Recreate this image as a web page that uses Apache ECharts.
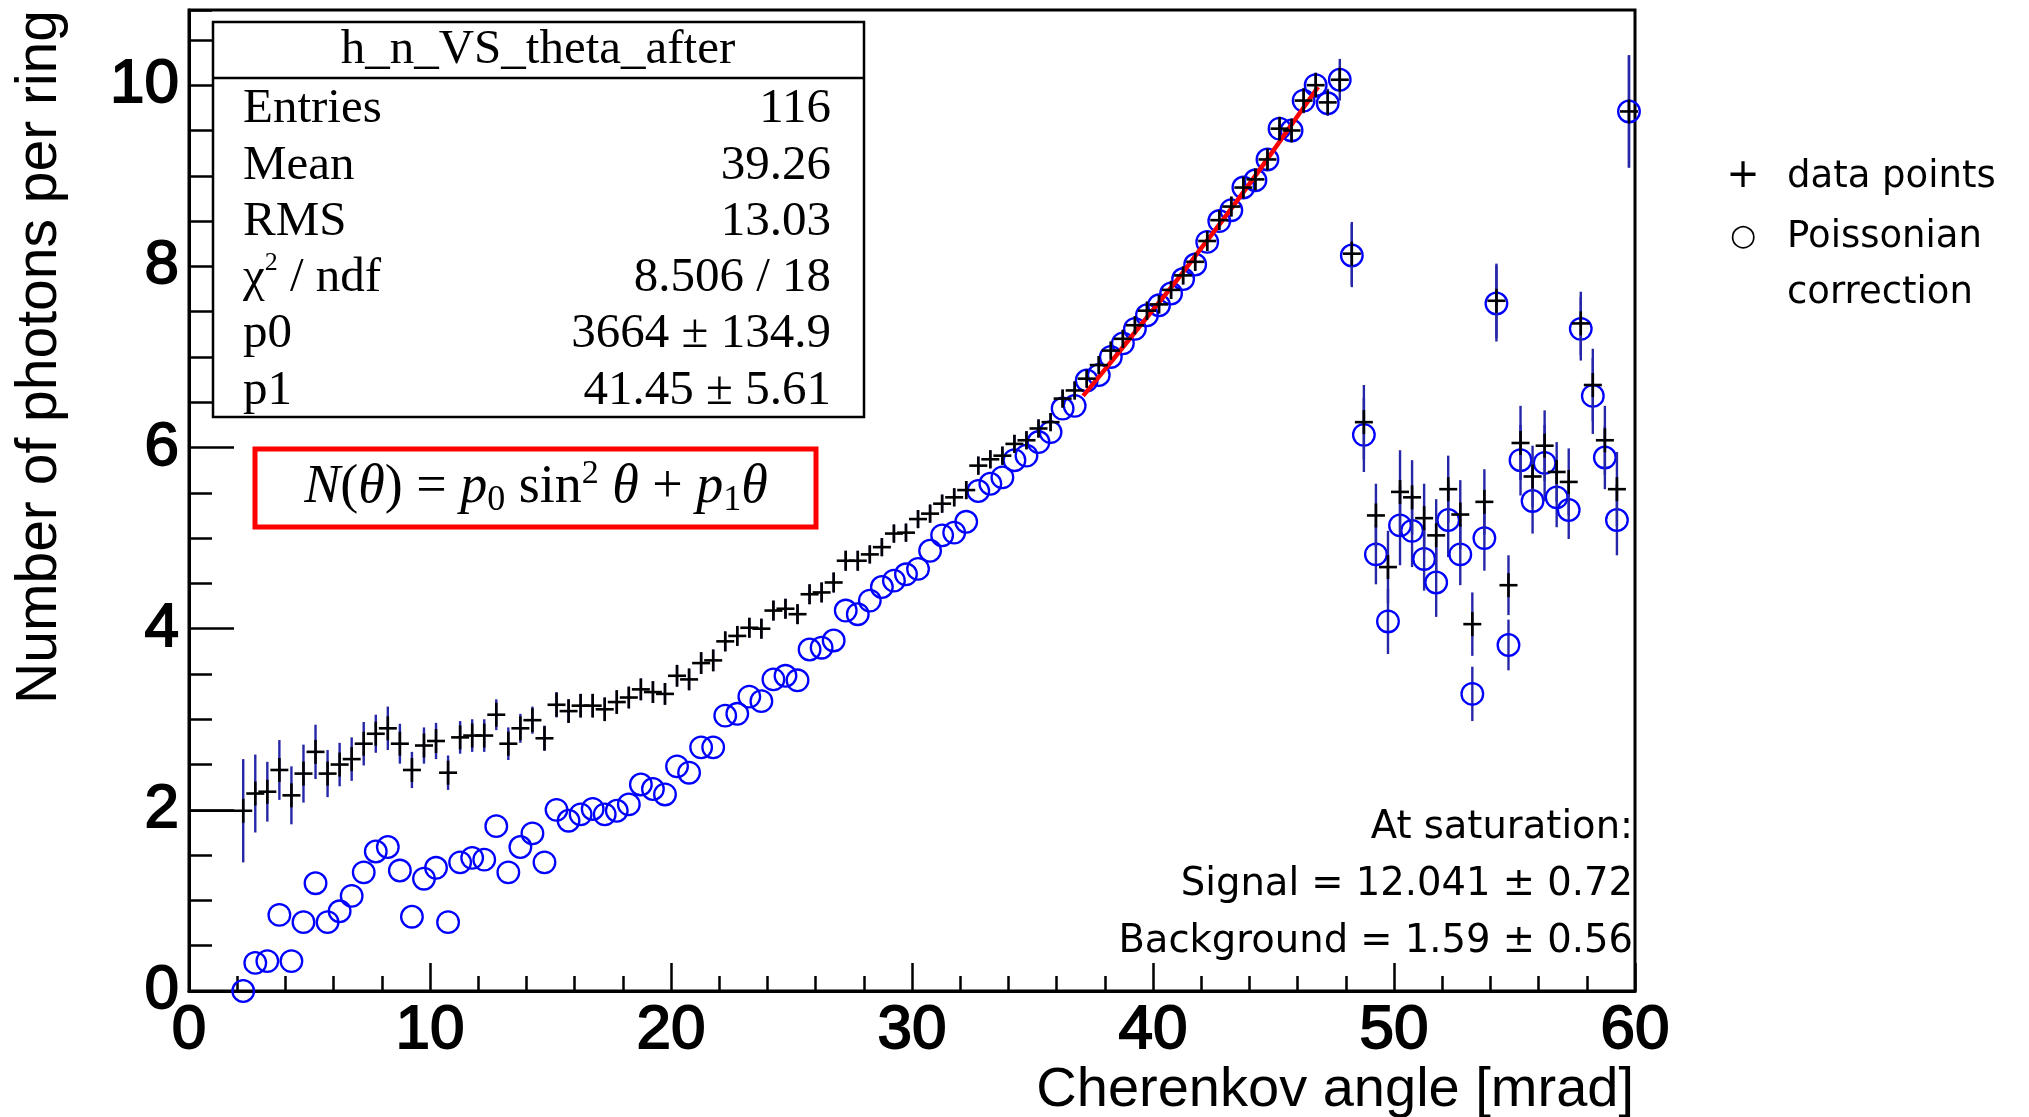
<!DOCTYPE html>
<html>
<head>
<meta charset="utf-8">
<script src="https://cdn.jsdelivr.net/npm/echarts@6/dist/echarts.min.js"></script>
<style>
html,body{margin:0;padding:0;background:#fff;}
#chart{width:2029px;height:1117px;}
</style>
</head>
<body>
<div id="chart"></div>
<script>
// Bin centres of the histogram (Cherenkov angle, mrad)
const thetaBins = [
  2.25, 2.75, 3.25, 3.75, 4.25, 4.75, 5.25, 5.75, 6.25, 6.75,
  7.25, 7.75, 8.25, 8.75, 9.25, 9.75, 10.25, 10.75, 11.25, 11.75,
  12.25, 12.75, 13.25, 13.75, 14.25, 14.75, 15.25, 15.75, 16.25, 16.75,
  17.25, 17.75, 18.25, 18.75, 19.25, 19.75, 20.25, 20.75, 21.25, 21.75,
  22.25, 22.75, 23.25, 23.75, 24.25, 24.75, 25.25, 25.75, 26.25, 26.75,
  27.25, 27.75, 28.25, 28.75, 29.25, 29.75, 30.25, 30.75, 31.25, 31.75,
  32.25, 32.75, 33.25, 33.75, 34.25, 34.75, 35.25, 35.75, 36.25, 36.75,
  37.25, 37.75, 38.25, 38.75, 39.25, 39.75, 40.25, 40.75, 41.25, 41.75,
  42.25, 42.75, 43.25, 43.75, 44.25, 44.75, 45.25, 45.75, 46.25, 46.75,
  47.25, 47.75, 48.25, 48.75, 49.25, 49.75, 50.25, 50.75, 51.25, 51.75,
  52.25, 52.75, 53.25, 53.75, 54.25, 54.75, 55.25, 55.75, 56.25, 56.75,
  57.25, 57.75, 58.25, 58.75, 59.25, 59.75
];
const binHalfWidth = 0.25;
const firstBinBarLeft = 0.0;

// "data points" (black crosses)
const nData = [
  1.99, 2.18, 2.20, 2.44, 2.16, 2.40, 2.64, 2.40, 2.50, 2.56,
  2.73, 2.84, 2.90, 2.73, 2.44, 2.71, 2.76, 2.41, 2.80, 2.82,
  2.82, 3.05, 2.73, 2.90, 2.99, 2.79, 3.16, 3.09, 3.15, 3.15,
  3.11, 3.19, 3.24, 3.33, 3.30, 3.28, 3.48, 3.44, 3.62, 3.65,
  3.86, 3.92, 4.01, 4.00, 4.20, 4.22, 4.16, 4.38, 4.40, 4.51,
  4.75, 4.75, 4.82, 4.90, 5.05, 5.06, 5.21, 5.27, 5.38, 5.45,
  5.53, 5.80, 5.87, 5.91, 6.04, 6.08, 6.21, 6.28, 6.54, 6.63,
  6.76, 6.91, 7.07, 7.20, 7.35, 7.51, 7.58, 7.74, 7.90, 8.05,
  8.28, 8.51, 8.66, 8.87, 8.96, 9.18, 9.52, 9.50, 9.83, 10.00,
  9.81, 10.06, 8.14, 6.28, 5.25, 4.68, 5.51, 5.45, 5.22, 5.03,
  5.54, 5.26, 4.05, 5.40, 7.62, 4.48, 6.05, 5.68, 6.02, 5.73,
  5.62, 7.37, 6.69, 6.08, 5.54, 9.71
];
const nDataErr = [
  0.57, 0.43, 0.33, 0.33, 0.32, 0.32, 0.30, 0.26, 0.24, 0.24,
  0.24, 0.21, 0.24, 0.22, 0.20, 0.20, 0.20, 0.19, 0.18, 0.18,
  0.18, 0.17, 0.18, 0.16, 0.15, 0.14, 0.14, 0.13, 0.13, 0.13,
  0.13, 0.13, 0.12, 0.12, 0.12, 0.12, 0.12, 0.12, 0.12, 0.12,
  0.11, 0.11, 0.11, 0.11, 0.11, 0.11, 0.11, 0.11, 0.11, 0.11,
  0.11, 0.11, 0.10, 0.10, 0.10, 0.10, 0.10, 0.10, 0.10, 0.10,
  0.10, 0.10, 0.10, 0.10, 0.10, 0.10, 0.10, 0.10, 0.10, 0.10,
  0.10, 0.10, 0.10, 0.10, 0.10, 0.10, 0.10, 0.10, 0.10, 0.10,
  0.11, 0.11, 0.11, 0.12, 0.12, 0.12, 0.13, 0.13, 0.14, 0.14,
  0.15, 0.23, 0.35, 0.41, 0.35, 0.40, 0.46, 0.41, 0.38, 0.40,
  0.37, 0.38, 0.35, 0.36, 0.41, 0.33, 0.41, 0.34, 0.39, 0.33,
  0.37, 0.35, 0.40, 0.38, 0.41, 0.62
];

// "Poissonian correction" (blue circles)
const nPoisson = [
  0.00, 0.31, 0.33, 0.84, 0.33, 0.76, 1.19, 0.76, 0.88, 1.05,
  1.31, 1.54, 1.59, 1.33, 0.82, 1.24, 1.36, 0.76, 1.42, 1.47,
  1.45, 1.82, 1.31, 1.59, 1.74, 1.42, 2.00, 1.88, 1.95, 2.01,
  1.95, 1.99, 2.06, 2.28, 2.23, 2.17, 2.48, 2.41, 2.69, 2.69,
  3.04, 3.06, 3.25, 3.20, 3.44, 3.48, 3.43, 3.77, 3.79, 3.87,
  4.20, 4.16, 4.31, 4.46, 4.53, 4.60, 4.66, 4.86, 5.03, 5.06,
  5.18, 5.52, 5.60, 5.67, 5.86, 5.91, 6.06, 6.17, 6.43, 6.46,
  6.74, 6.80, 7.00, 7.15, 7.31, 7.46, 7.57, 7.70, 7.86, 8.02,
  8.27, 8.50, 8.62, 8.87, 8.95, 9.18, 9.52, 9.50, 9.83, 10.00,
  9.80, 10.06, 8.12, 6.14, 4.82, 4.08, 5.14, 5.08, 4.77, 4.51,
  5.20, 4.82, 3.28, 5.00, 7.59, 3.82, 5.86, 5.41, 5.83, 5.45,
  5.31, 7.31, 6.57, 5.89, 5.20, 9.71
];
const nPoissonErr = [
  0, 0, 0, 0, 0, 0, 0, 0, 0, 0,
  0, 0, 0, 0, 0, 0, 0, 0, 0, 0,
  0, 0, 0, 0, 0, 0, 0, 0, 0, 0,
  0, 0, 0, 0, 0, 0, 0, 0, 0, 0,
  0, 0, 0, 0, 0, 0, 0, 0, 0, 0,
  0, 0, 0, 0, 0, 0, 0, 0, 0, 0,
  0, 0, 0, 0, 0, 0, 0, 0, 0, 0,
  0, 0, 0, 0, 0, 0, 0, 0, 0, 0,
  0, 0, 0, 0, 0, 0, 0, 0, 0, 0,
  0, 0.12, 0.35, 0.41, 0.33, 0.36, 0.44, 0.40, 0.35, 0.38,
  0.41, 0.34, 0.30, 0.36, 0.42, 0.28, 0.39, 0.36, 0.42, 0.33,
  0.32, 0.35, 0.42, 0.35, 0.39, 0.62
];

// fitted curve (red)
const fitTheta = [37.1, 38, 39, 40, 41, 42, 43, 44, 45, 46, 46.85];
const fitN = [6.57, 6.86, 7.19, 7.52, 7.85, 8.20, 8.55, 8.91, 9.28, 9.66, 9.98];

// axis ticks
const xTickInterval = 10;
const yMajorInterval = 2;
const yMinorInterval = 0.5;

// text content
const statsTitle = 'h_n_VS_theta_after';
const statsLabels = ['Entries', 'Mean', 'RMS', 'CHI', 'p0', 'p1'];
const statsValues = ['116', '39.26', '13.03', '8.506 / 18', '3664 \u00b1 134.9', '41.45 \u00b1 5.61'];
const saturationLines = ['At saturation:', 'Signal = 12.041 \u00b1 0.72', 'Background = 1.59 \u00b1 0.56'];

const NAVY = '#2626a8';
const chart = echarts.init(document.getElementById('chart'), null, {renderer: 'canvas'});

const poissonData = thetaBins.map((t, i) => [t, nPoisson[i], nPoissonErr[i]]);
const dataData = thetaBins.map((t, i) => [t, nData[i], nDataErr[i],
  i === 0 ? firstBinBarLeft : t - binHalfWidth, t + binHalfWidth]);
const fitData = fitTheta.map((t, i) => [t, fitN[i]]);

const tickFont = '"Liberation Sans", Arial, sans-serif';
const serif = '"Liberation Serif", "Times New Roman", serif';
const gothic = '"DejaVu Sans", sans-serif';

function txt(x, y, text, font, align, vAlign, extra) {
  return Object.assign({
    type: 'text', x: x, y: y, z: 110,
    style: Object.assign({
      text: text, font: font, fill: '#000',
      textAlign: align, textVerticalAlign: vAlign,
      align: align, verticalAlign: vAlign
    }, (extra && extra.style) || {})
  }, (extra && extra.el) || {});
}

const statsRowY = [109, 166, 222, 278, 334, 391];
const graphics = [];
// y axis title
graphics.push(txt(40, 10, 'Number of photons per ring', '57px ' + tickFont, 'right', 'middle', {el: {rotation: Math.PI / 2}}));
// x axis title
graphics.push(txt(1634, 1091, 'Cherenkov angle [mrad]', '56px ' + tickFont, 'right', 'middle'));
// stats box
graphics.push({type: 'rect', z: 100, shape: {x: 213, y: 22, width: 651, height: 395},
  style: {fill: '#fff', stroke: '#000', lineWidth: 2.5}});
graphics.push({type: 'line', z: 101, shape: {x1: 213, y1: 78, x2: 864, y2: 78},
  style: {stroke: '#000', lineWidth: 2.5}});
graphics.push(txt(538, 50, statsTitle, '49px ' + serif, 'center', 'middle'));
statsLabels.forEach((lab, i) => {
  if (lab === 'CHI') {
    graphics.push({type: 'text', x: 243, y: statsRowY[i], z: 110, style: {
      text: '{c|\u03c7}{s|2}{c| / ndf}', textAlign: 'left', textVerticalAlign: 'middle',
      align: 'left', verticalAlign: 'middle', fill: '#000',
      rich: {
        c: {fontFamily: serif, fontSize: 49, lineHeight: 56, fill: '#000', color: '#000'},
        s: {fontFamily: serif, fontSize: 26, lineHeight: 30, verticalAlign: 'top', fill: '#000', color: '#000'}
      }
    }});
  } else {
    graphics.push(txt(243, statsRowY[i], lab, '49px ' + serif, 'left', 'middle'));
  }
  graphics.push(txt(831, statsRowY[i], statsValues[i], '49px ' + serif, 'right', 'middle'));
});
// formula box
graphics.push({type: 'rect', z: 100, shape: {x: 255, y: 449, width: 561, height: 78},
  style: {fill: '#fff', stroke: '#ff0000', lineWidth: 5}});
graphics.push({type: 'text', x: 536, y: 488, z: 110, style: {
  text: '{i|N}{r|(}{i|\u03b8}{r|) = }{i|p}{sub|0}{r| sin}{sup|2}{r| }{i|\u03b8}{r| + }{i|p}{sub|1}{i|\u03b8}',
  textAlign: 'center', textVerticalAlign: 'middle', align: 'center', verticalAlign: 'middle', fill: '#000',
  rich: {
    i: {fontFamily: serif, fontStyle: 'italic', fontSize: 54, lineHeight: 62, fill: '#000', color: '#000'},
    r: {fontFamily: serif, fontSize: 54, lineHeight: 62, fill: '#000', color: '#000'},
    sub: {fontFamily: serif, fontSize: 36, lineHeight: 26, verticalAlign: 'bottom', fill: '#000', color: '#000'},
    sup: {fontFamily: serif, fontSize: 34, lineHeight: 30, verticalAlign: 'top', fill: '#000', color: '#000'}
  }
}});
// saturation annotation
[828, 885, 942].forEach((y, i) => graphics.push(txt(1633, y, saturationLines[i], '38.5px ' + gothic, 'right', 'middle')));
// legend
graphics.push(txt(1743, 177, '+', '40px ' + gothic, 'center', 'middle'));
graphics.push(txt(1787, 177, 'data points', '37px ' + gothic, 'left', 'middle'));
graphics.push(txt(1743, 237, '\u25cb', '30px ' + gothic, 'center', 'middle'));
graphics.push(txt(1787, 237, 'Poissonian', '37px ' + gothic, 'left', 'middle'));
graphics.push(txt(1787, 293, 'correction', '37px ' + gothic, 'left', 'middle'));

const tickLabelStyle = {fontSize: 62, fontFamily: tickFont, color: '#000', textBorderColor: '#000', textBorderWidth: 1.8};

const option = {
  backgroundColor: '#fff',
  animation: false,
  grid: {left: 189, right: 394, top: 10, bottom: 126, show: true, borderColor: '#000', borderWidth: 3, backgroundColor: 'transparent'},
  xAxis: {
    type: 'value', min: 0, max: 60, interval: xTickInterval,
    axisLine: {show: true, onZero: false, lineStyle: {color: '#000', width: 3}},
    axisTick: {show: true, inside: true, length: 28, lineStyle: {color: '#000', width: 2.5}},
    minorTick: {show: true, splitNumber: 5, length: 15, lineStyle: {color: '#000', width: 2.5}},
    axisLabel: Object.assign({margin: 9, lineHeight: 62}, tickLabelStyle),
    splitLine: {show: false}, minorSplitLine: {show: false}
  },
  yAxis: [
    {
      type: 'value', min: 0, max: 10.83, interval: yMajorInterval, position: 'left',
      axisLine: {show: true, onZero: false, lineStyle: {color: '#000', width: 3}},
      axisTick: {show: true, inside: true, length: 45, lineStyle: {color: '#000', width: 2.5}},
      axisLabel: Object.assign({margin: 10, showMaxLabel: false}, tickLabelStyle),
      splitLine: {show: false}
    },
    {
      type: 'value', min: 0, max: 10.83, interval: yMinorInterval, position: 'left',
      axisLine: {show: false},
      axisTick: {show: true, inside: true, length: 23, lineStyle: {color: '#000', width: 2.5}},
      axisLabel: {show: false},
      splitLine: {show: false}
    }
  ],
  series: [
    {
      type: 'custom', name: 'Poissonian correction', z: 2, xAxisIndex: 0, yAxisIndex: 0,
      data: poissonData, encode: {x: 0, y: 1},
      renderItem: function (params, api) {
        const x = api.value(0), y = api.value(1), e = api.value(2);
        const c = api.coord([x, y]);
        const children = [];
        if (e > 0) {
          const top = api.coord([x, y + e])[1], bot = api.coord([x, y - e])[1];
          children.push({type: 'line', shape: {x1: c[0], y1: top, x2: c[0], y2: bot}, style: {stroke: NAVY, lineWidth: 2.4}});
        }
        children.push({type: 'circle', shape: {cx: c[0], cy: c[1], r: 10.8}, style: {fill: 'none', stroke: '#0000ff', lineWidth: 2.3}});
        return {type: 'group', children: children};
      }
    },
    {
      type: 'line', name: 'fit', z: 3, data: fitData, smooth: true, showSymbol: false, symbol: 'none',
      lineStyle: {color: '#ff0000', width: 4.5}
    },
    {
      type: 'custom', name: 'data points', z: 4, xAxisIndex: 0, yAxisIndex: 0,
      data: dataData, encode: {x: 0, y: 1},
      renderItem: function (params, api) {
        const x = api.value(0), y = api.value(1), e = api.value(2), xl = api.value(3), xh = api.value(4);
        const c = api.coord([x, y]);
        const top = api.coord([x, y + e])[1], bot = api.coord([x, y - e])[1];
        const l = Math.min(api.coord([xl, y])[0], c[0] - 9);
        const r = Math.max(api.coord([xh, y])[0], c[0] + 9);
        const arm = Math.max(9, Math.min((bot - top) / 2, 12));
        return {type: 'group', children: [
          {type: 'line', shape: {x1: c[0], y1: top, x2: c[0], y2: bot}, style: {stroke: NAVY, lineWidth: 2.4}},
          {type: 'line', shape: {x1: l, y1: c[1], x2: r, y2: c[1]}, style: {stroke: '#000', lineWidth: 2.6}},
          {type: 'line', shape: {x1: c[0], y1: c[1] - arm, x2: c[0], y2: c[1] + arm}, style: {stroke: '#000', lineWidth: 2.6}}
        ]};
      }
    }
  ],
  graphic: graphics
};
chart.setOption(option);
</script>
</body>
</html>
